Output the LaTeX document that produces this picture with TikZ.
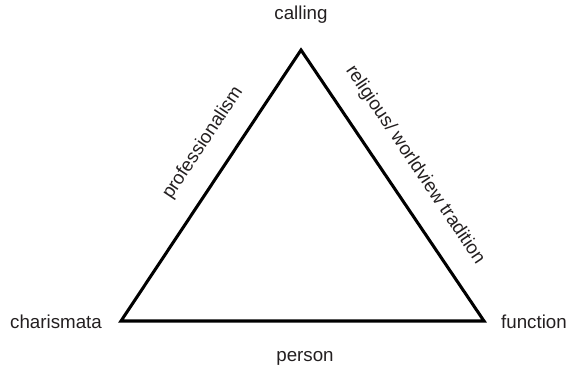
\documentclass[tikz,border=0pt]{standalone}
\usepackage{fontspec}
\setmainfont{Liberation Sans}
\definecolor{labelgray}{HTML}{231F20}
\begin{document}
\begin{tikzpicture}[x=0.03cm,y=-0.03cm,
  lbl/.style={font=\fontsize{16}{19}\selectfont, text=labelgray, inner sep=0pt},
  side/.style={line width=2.6pt, black, line join=miter}]
\useasboundingbox (0,0) rectangle (569,370);
\coordinate (top) at (301,50);
\coordinate (left) at (121,321);
\coordinate (right) at (484,321);
\draw[side] (top) -- (right) -- (left) -- cycle;
\node[lbl, anchor=base] (calling) at (301,20) {calling};
\node[lbl, anchor=base] (charismata) at (56,328) {charismata};
\node[lbl, anchor=base] (function) at (534,328) {function};
\node[lbl, anchor=base] (person) at (305,361) {person};
\node[lbl, rotate=56.4] (prof) at (203,143) {professionalism};
\node[lbl, rotate=-56.1] (relig) at (415,165) {religious/ worldview tradition};
\end{tikzpicture}
\end{document}
